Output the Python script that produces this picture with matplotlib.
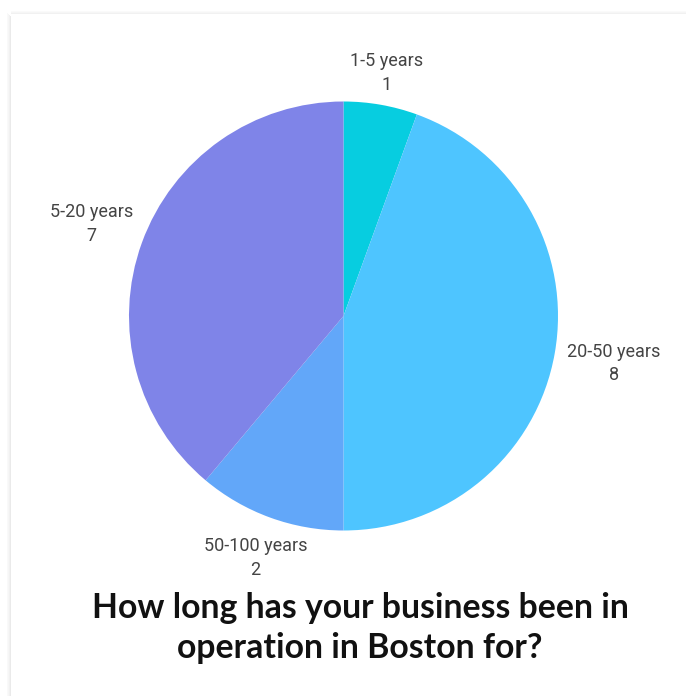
import matplotlib.pyplot as plt
import numpy as np
from matplotlib.patches import Rectangle

# Survey answers: years in operation
categories = ['1-5 years', '20-50 years', '50-100 years', '5-20 years']
counts = [1, 8, 2, 7]
colors = ['#07CDE0', '#4EC5FF', '#62A7F9', '#7F84E8']
label_dist = [1.15, 1.28, 1.20, 1.25]

title = 'How long has your business been in\noperation in Boston for?'

W, H = 686, 696
fig = plt.figure(figsize=(W / 100, H / 100), dpi=100)
fig.patch.set_facecolor('white')

# card edge with a soft shadow on the top and left
for i, a in enumerate([0.05, 0.08, 0.12, 0.18]):
    fig.patches.append(Rectangle((7 + i, 0), 1, (H - 13 - i), transform=None,
                                 color='#909090', alpha=a, lw=0))
for i, a in enumerate([0.04, 0.08, 0.12]):
    fig.patches.append(Rectangle((11, H - 12 - i), W - 11, 1, transform=None,
                                 color='#909090', alpha=a, lw=0))

cx, cy, r = 343.5, 316, 214.5
ax = fig.add_axes([(cx - r) / W, (H - cy - r) / H, 2 * r / W, 2 * r / H])
wedges, _ = ax.pie(counts, colors=colors, startangle=90, counterclock=False,
                   radius=1, wedgeprops=dict(linewidth=0))
ax.set_xlim(-1, 1)
ax.set_ylim(-1, 1)
ax.set_aspect('equal')
ax.axis('off')

for w, name, n, d in zip(wedges, categories, counts, label_dist):
    ang = np.deg2rad((w.theta1 + w.theta2) / 2)
    ax.text(d * np.cos(ang), d * np.sin(ang), f'{name}\n{n}',
            ha='center', va='center', fontsize=13, family='Roboto',
            color='#444444', linespacing=1.4, clip_on=False)

fig.text(360 / W, 1 - 628 / H, title, ha='center', va='center',
         fontsize=24.3, fontweight='bold', family='Lato', color='#111111',
         linespacing=1.32)

fig.savefig('out.png', dpi=100)
